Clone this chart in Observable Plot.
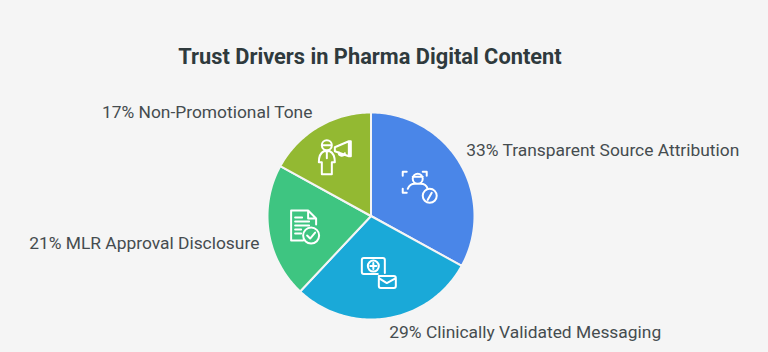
<!DOCTYPE html>
<html>
<head>
<meta charset="utf-8">
<script src="https://cdn.jsdelivr.net/npm/d3@7"></script>
<script src="https://cdn.jsdelivr.net/npm/@observablehq/plot@0.6"></script>
<style>
html,body{margin:0;padding:0;background:#f5f5f5;width:768px;height:352px;overflow:hidden}
#title{height:80px;box-sizing:border-box;padding-top:44px;text-align:center;font:700 21.8px Roboto,sans-serif;color:#2f3a3d;line-height:26px;width:740px}
svg{display:block}
</style>
</head>
<body>
<div id="title">Trust Drivers in Pharma Digital Content</div>
<div id="chart"></div>
<script>
const categories = ["Transparent Source Attribution","Clinically Validated Messaging","MLR Approval Disclosure","Non-Promotional Tone"];
const shares = [33,29,21,17];
const colors = ["#4a86e8","#1aa9d8","#3ec581","#93b932"];

const W = 768, H = 272, R = 103.5, cx = 370.5, cy = 135.5;
const total = d3.sum(shares);
const ang = d3.scaleLinear([0,total],[0,2*Math.PI]);
const polar = (a,r) => [r*Math.sin(a), r*Math.cos(a)];
let acc = 0;
const slices = categories.map((c,i)=>{const a0=ang(acc); acc+=shares[i]; const a1=ang(acc); return {c,i,share:shares[i],a0,a1,mid:(a0+a1)/2};});
const verts = slices.flatMap(s=>{
  const n = Math.ceil(s.share*3);
  const pts=[{s,p:[0,0]}];
  for(let k=0;k<=n;k++) pts.push({s,p:polar(s.a0+(s.a1-s.a0)*k/n,R)});
  return pts;
});
// label placement: radial anchor plus nudge
const labelR=[128,117,113,119], labelNudge=[[-15,0.5],[0,-1],[0,-10],[2,1.5]], labelAnchor=["start","start","end","end"];
const labels = slices.map(s=>{const [x,y]=polar(s.mid,labelR[s.i]);return {x:x+labelNudge[s.i][0],y:y+labelNudge[s.i][1],text:`${s.share}% ${s.c}`,anchor:labelAnchor[s.i]};});

const iconPaths = [
 "M-16 -16V-20H-12 M4 -20H8V-16 M-16 -3V1H-12 M-6 -13a5 5 0 1 0 10 0a5 5 0 1 0 -10 0 M-6 -15H4 M-11 -3C-9 -8 -6 -8 -4 -8H2C6 -8 8 -6 9 -3 M4 4a7 7 0 1 0 14 0a7 7 0 1 0 -14 0 M9 8L13 1",
 "M-10 -17H9Q11 -17 11 -15V-2 M-10 -17Q-12 -17 -12 -15V-3Q-12 -1 -10 -1H4 M-6 -9a5 5 0 1 0 11 0a5 5 0 1 0 -11 0 M-0.5 -12V-6 M-3.5 -9H2.5 M5 1H20Q22 1 22 3V11Q22 13 20 13H7Q5 13 5 11Z M5 3L13 8L22 3",
 "M-15 -19H2L10 -11V-5 M-15 -19V11H-3 M2 -19V-11H10 M-11 -12H-4 M-11 -8H3 M-11 -4H3 M-11 0H-5 M-11 4H-5 M-3 6a8 8 0 1 0 16 0a8 8 0 1 0 -16 0 M1 6L4 9L9 3",
 "M-16 -20a5 5 0 1 0 10 0a5 5 0 1 0 -10 0 M-16 -20H-6 M-14 -14C-18 -12 -19 -8 -19 -3H-16V9H-6V-3H-3C-3 -8 -4 -12 -8 -14Z M-11 -13V-7 M-3 -18L11 -24V-9L-3 -14Z M11 -24H13V-9H11 M1 -13a3 3 0 0 0 6 1"
];
const iconR = [0.62,0.70,0.62,0.62];
const iconShift=[[-7,-9],[-8,12],[-1,-4],[0,-5]];
const iconMark = (index, scales) => {
  const g = d3.create("svg:g");
  slices.forEach(s=>{
    const [x,y]=polar(s.mid,R*iconR[s.i]);
    g.append("path").attr("d",iconPaths[s.i])
     .attr("transform",`translate(${scales.x(x+iconShift[s.i][0])},${scales.y(y+iconShift[s.i][1])})`)
     .attr("fill","none").attr("stroke","#fff").attr("stroke-width",2)
     .attr("stroke-linecap","round").attr("stroke-linejoin","round");
  });
  return g.node();
};

const chart = Plot.plot({
  width:W, height:H, margin:0,
  style:{background:"transparent",fontFamily:"Roboto, sans-serif"},
  x:{domain:[-cx,W-cx],axis:null},
  y:{domain:[-(H-cy),cy],axis:null},
  color:{domain:categories,range:colors},
  marks:[
    Plot.line(verts,{x:d=>d.p[0],y:d=>d.p[1],z:d=>d.s.c,fill:d=>d.s.c,stroke:"#f5f5f5",strokeWidth:2,curve:"linear-closed",strokeLinejoin:"round"}),
    ...["start","end"].map(an=>Plot.text(labels.filter(d=>d.anchor===an),{x:"x",y:"y",text:"text",textAnchor:an,fontSize:17.4,fill:"#454c4f",fontFamily:"Roboto, sans-serif"})),
    iconMark
  ]
});
document.getElementById("chart").append(chart);
</script>
</body>
</html>
